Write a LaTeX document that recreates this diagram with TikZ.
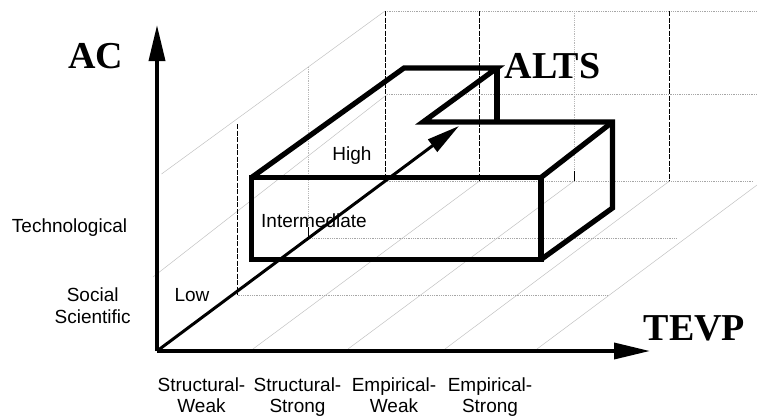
\documentclass[tikz,border=0pt]{standalone}
\usepackage{fontspec}
\setmainfont{Liberation Sans}
\newfontfamily\labelserif{Liberation Serif}
\usetikzlibrary{arrows.meta}
\tikzset{
  x=1pt,y=-1pt,
  lbl/.style={anchor=base,inner sep=0pt,font=\fontsize{19}{21.6}\selectfont},
  biglbl/.style={anchor=base,inner sep=0pt,font=\labelserif\bfseries\fontsize{38}{40}\selectfont},
  depthline/.style={draw=black!24,line width=0.5pt},
  dotline/.style={draw=black!35,line width=0.8pt,dash pattern=on 1pt off 0.8pt},
  dotvert/.style={draw=black!28,line width=0.9pt,dash pattern=on 1pt off 0.8pt},
  dashline/.style={draw=black,line width=1pt,dash pattern=on 5pt off 1.5pt},
  blackline/.style={draw=black,line width=1pt},
  boxline/.style={draw=black,line width=5.2pt,line join=miter,line cap=butt},
  axisline/.style={draw=black,line width=3.6pt,-{Triangle[length=36pt,width=16pt]}},
  mainarrow/.style={draw=black,line width=3pt,-{Triangle[length=33pt,width=15pt]}}
}
\begin{document}
\begin{tikzpicture}
\useasboundingbox (0,0) rectangle (757,418);
% coordinates
\coordinate (O) at (157,351);
\coordinate (ytip) at (157,25);
\coordinate (xtip) at (650,351);
\coordinate (atip) at (459,126);
% back wall grid
\coordinate (t1) at (385,11); \coordinate (t2) at (479.5,11);
\coordinate (t3) at (574,11); \coordinate (t4) at (669.5,11);
\coordinate (tr) at (757,11);
\coordinate (m1) at (387,94.5); \coordinate (mr) at (757,94.5);
\coordinate (b1) at (385,181); \coordinate (b2) at (479.5,181);
\coordinate (b3) at (574,181); \coordinate (b4) at (669.5,181);
\coordinate (br) at (753,181);
\coordinate (b3u) at (574,171);
\coordinate (g1) at (308.5,238); \coordinate (g1u) at (308.5,67);
\coordinate (g1m) at (308.5,227); \coordinate (gr) at (676,238);
\coordinate (f1) at (237.5,295); \coordinate (f1u) at (237.5,124);
\coordinate (fr) at (607,295);
% depth lines
\coordinate (d1) at (161.5,174); \coordinate (d2) at (153,277);
\coordinate (x1) at (253,349); \coordinate (x2) at (348,349);
\coordinate (x3) at (445,349); \coordinate (x4) at (537,349);
\coordinate (e4) at (757,185);
% box
\coordinate (A) at (251.5,177.5); \coordinate (B) at (541,177.5);
\coordinate (C) at (541,259.5); \coordinate (D) at (251.5,259.5);
\coordinate (E) at (404,68); \coordinate (F) at (497,68);
\coordinate (G) at (423,122); \coordinate (H) at (612.5,122);
\coordinate (I) at (612.5,208); \coordinate (J) at (497,122);

\draw[depthline] (d1) -- (t1);
\draw[depthline] (d2) -- (m1);
\draw[depthline] (x1) -- (b2);
\draw[depthline] (x2) -- (b3);
\draw[depthline] (x3) -- (b4);
\draw[depthline] (x4) -- (e4);

\draw[dotline] (t1) -- (tr);
\draw[dotline] (m1) -- (mr);
\draw[dotline] (b1) -- (br);
\draw[dotline] (g1) -- (gr);
\draw[dotline] (f1) -- (fr);
\draw[dotvert] (t3) -- (b3u);
\draw[dotvert] (g1u) -- (g1m);

\draw[blackline] (b3u) -- (b3);
\draw[blackline] (g1m) -- (g1);
\draw[dashline] (t1) -- (b1);
\draw[dashline] (t2) -- (b2);
\draw[dashline] (t4) -- (b4);
\draw[dashline] (f1u) -- (f1);

\draw[boxline] (A) -- (B) -- (C) -- (D) -- cycle;
\draw[boxline] (A) -- (E) -- (F) -- (G) -- (H) -- (I) -- (C);
\draw[boxline] (F) -- (J);
\draw[boxline] (B) -- (H);

\draw[axisline] (O) -- (ytip);
\draw[axisline] (O) -- (xtip);
\draw[mainarrow] (O) -- (atip);

\node[biglbl] (ac) at (95.5,68) {AC};
\node[biglbl] (alts) at (552.5,78) {ALTS};
\node[biglbl] (tevp) at (694.5,340) {TEVP};
\node[lbl] (high) at (352,160.5) {High};
\node[lbl] (intermediate) at (314,227) {Intermediate};
\node[lbl] (low) at (192,301) {Low};
\node[lbl] (tech) at (69.5,232.7) {Technological};
\node[lbl] (social) at (92.7,301) {Social};
\node[lbl] (scientific) at (92.7,323) {Scientific};
\node[lbl] (sw1) at (201.5,391) {Structural-};
\node[lbl] (sw2) at (201.5,412.5) {Weak};
\node[lbl] (ss1) at (297.5,391) {Structural-};
\node[lbl] (ss2) at (297.5,412.5) {Strong};
\node[lbl] (ew1) at (394,391) {Empirical-};
\node[lbl] (ew2) at (394,412.5) {Weak};
\node[lbl] (es1) at (490,391) {Empirical-};
\node[lbl] (es2) at (490,412.5) {Strong};
\end{tikzpicture}
\end{document}
